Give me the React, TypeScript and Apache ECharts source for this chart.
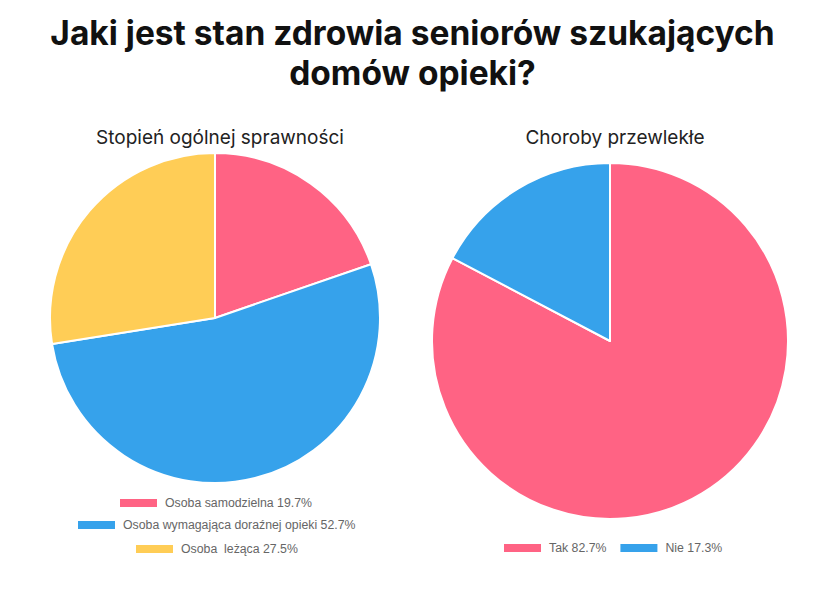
import React, { useEffect, useRef } from "react";
import * as echarts from "echarts";

const titleLines = ["Jaki jest stan zdrowia seniorów szukających", "domów opieki?"];
const leftTitle = "Stopień ogólnej sprawności";
const rightTitle = "Choroby przewlekłe";
const leftNames = ["Osoba samodzielna", "Osoba wymagająca doraźnej opieki", "Osoba  leżąca"];
const leftValues = [19.7, 52.7, 27.5];
const leftColors = ["#FF6384", "#36A2EB", "#FFCD56"];
const rightNames = ["Tak", "Nie"];
const rightValues = [82.7, 17.3];
const rightColors = ["#FF6384", "#36A2EB"];

export default function App() {
  const ref = useRef<HTMLDivElement>(null);
  useEffect(() => {
    if (!ref.current) return;
    const chart = echarts.init(ref.current, undefined, { renderer: "svg" });
    const valueOf: Record<string, number> = {};
    leftNames.forEach((n, i) => (valueOf[n] = leftValues[i]));
    rightNames.forEach((n, i) => (valueOf[n] = rightValues[i]));
    const fmt = (name: string) => `${name} ${valueOf[name]}%`;
    const legendBase = {
      orient: "horizontal" as const,
      padding: 0,
      itemWidth: 39,
      itemHeight: 10,
      itemGap: 12,
      icon: "rect",
      formatter: fmt,
      textStyle: { fontFamily: "Liberation Sans", fontSize: 12.3, color: "#666", padding: [0, 0, 0, 2] },
    };
    const leftLegendPos = [
      { left: 118, top: 497 },
      { left: 76, top: 519 },
      { left: 134, top: 543 },
    ];
    chart.setOption({
      animation: false,
      backgroundColor: "#fff",
      title: [
        {
          text: titleLines.join("\n"),
          left: "center",
          top: 8,
          textStyle: {
            fontFamily: "Inter",
            fontWeight: "bold",
            fontSize: 33.5,
            lineHeight: 40,
            color: "#111",
          },
        },
        {
          text: leftTitle,
          left: 215,
          top: 123,
          textAlign: "center",
          textStyle: { fontFamily: "Inter", fontWeight: "normal", fontSize: 19, color: "#222" },
        },
        {
          text: rightTitle,
          left: 610,
          top: 123,
          textAlign: "center",
          textStyle: { fontFamily: "Inter", fontWeight: "normal", fontSize: 19, color: "#222" },
        },
      ],
      legend: [
        ...leftNames.map((n, i) => ({ ...legendBase, data: [n], ...leftLegendPos[i] })),
        { ...legendBase, data: rightNames, left: 502, top: 542 },
      ],
      series: [
        {
          type: "pie",
          center: [215, 318],
          radius: [0, 165],
          startAngle: 90,
          clockwise: true,
          label: { show: false },
          labelLine: { show: false },
          emphasis: { disabled: true },
          itemStyle: { borderColor: "#fff", borderWidth: 2 },
          data: leftNames.map((n, i) => ({ name: n, value: leftValues[i], itemStyle: { color: leftColors[i] } })),
        },
        {
          type: "pie",
          center: [610, 341],
          radius: [0, 178],
          startAngle: 90,
          clockwise: true,
          label: { show: false },
          labelLine: { show: false },
          emphasis: { disabled: true },
          itemStyle: { borderColor: "#fff", borderWidth: 2 },
          data: rightNames.map((n, i) => ({ name: n, value: rightValues[i], itemStyle: { color: rightColors[i] } })),
        },
      ],
    });
    return () => chart.dispose();
  }, []);
  return <div ref={ref} style={{ position: "fixed", left: 0, top: 0, width: 825, height: 594 }} />;
}
